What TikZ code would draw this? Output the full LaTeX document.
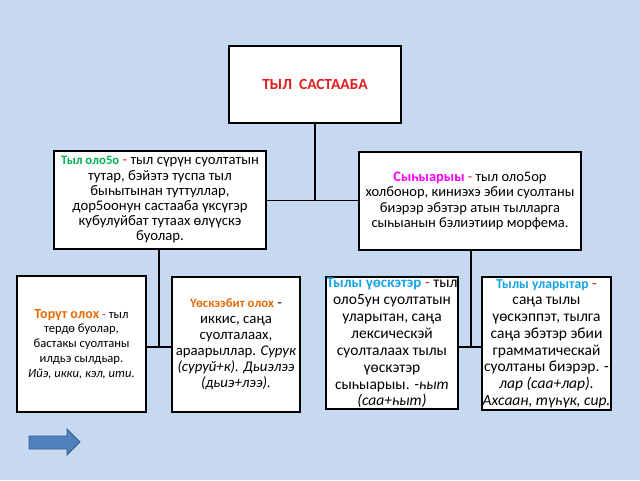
\documentclass[tikz,border=0pt]{standalone}
\usepackage{fontspec}
\setmainfont{Carlito}
\definecolor{bg}{HTML}{C6D9F1}
\definecolor{tgreen}{HTML}{00B050}
\definecolor{tmag}{HTML}{FF00FF}
\definecolor{torange}{HTML}{E36C09}
\definecolor{tblue}{HTML}{17A5E6}
\definecolor{tred}{HTML}{E02020}
\definecolor{arrfill}{HTML}{4F81BD}
\definecolor{arrdraw}{HTML}{385D8A}
\newcommand{\hd}[3]{{\fontsize{#2}{15}\selectfont\bfseries\color{#1}#3}}
\newcommand{\dsh}{\textcolor{tred}{-}}
\newcommand{\bfs}[2]{\fontsize{#1}{#2}\selectfont}
\begin{document}
\begin{tikzpicture}[x=1pt,y=-1pt,
  box/.style={draw=black, line width=1.3pt, fill=white, inner sep=0pt, align=center},
  conn/.style={draw=black, line width=1.3pt}]
\fill[bg] (0,0) rectangle (640,480);
\useasboundingbox (0,0) rectangle (640,480);

\node[box, minimum width=172pt, minimum height=77pt, font={\fontsize{15.5}{18}\selectfont\bfseries}] (top) at (315,84.5) {\textcolor{tred}{ТЫЛ\ \ САСТААБА}};

\node[box, minimum width=212pt, minimum height=98pt, font=\bfs{14.7}{15.2}] (lm) at (160,200)
 {\hd{tgreen}{12.8}{Тыл оло5о} \dsh{} тыл сүрүн суолтатын\\ тутар, бэйэтэ туспа тыл\\ быһытынан туттуллар,\\ дор5оонун састааба үксүгэр\\ кубулуйбат тутаах өлүүскэ\\ буолар.};

\node[box, minimum width=222pt, minimum height=98pt, font=\bfs{14.5}{15.3}] (rm) at (470,201)
 {\hd{tmag}{14.5}{Сыһыарыы} \dsh{} тыл оло5ор\\ холбонор, киниэхэ эбии суолтаны\\ биэрэр эбэтэр атын тылларга\\ сыһыанын бэлиэтиир морфема.};

\node[box, minimum width=129pt, minimum height=136pt, font=\bfs{12.6}{14.8}] (b1) at (81.5,344)
 {\hd{torange}{14}{Торүт олох} \dsh{} тыл\\ тердө буолар,\\ бастакы суолтаны\\ илдьэ сылдьар.\\ \itshape Ийэ, икки, кэл, ити.};

\node[box, minimum width=128pt, minimum height=135pt, font=\bfs{14.8}{16}] (b2) at (236,344.5)
 {\hd{torange}{12.8}{Үөскээбит олох} -\\ иккис, саңа\\ суолталаах,\\ араарыллар. \textit{Сурук}\\ \textit{(суруй+к). Дьиэлээ}\\ \textit{(дьиэ+лээ).}};

\node[box, minimum width=132pt, minimum height=132pt, font=\bfs{15.5}{16.9}] (b3) at (392,343)
 {\hd{tblue}{15}{Тылы үөскэтэр} \dsh{} тыл\\ оло5ун суолтатын\\ уларытан, саңа\\ лексическэй\\ суолталаах тылы\\ үөскэтэр\\ сыһыарыы. \textit{-һыт}\\ \textit{(саа+һыт)}};

\node[box, minimum width=129pt, minimum height=133pt, font=\bfs{15.5}{16.7}] (b4) at (546.5,343.5)
 {\hd{tblue}{13.7}{Тылы уларытар} \dsh\\ саңа тылы\\ үөскэппэт, тылга\\ саңа эбэтэр эбии\\ грамматическай\\ суолтаны биэрэр. -\\ \textit{лар (саа+лар).}\\ \textit{Ахсаан, түһүк, сир.}};

\coordinate (j1) at (315,200.5);
\coordinate (j2) at (159,347);
\coordinate (j3) at (471,347);
\draw[conn] (top.south) -- (top.south |- j1);
\draw[conn] (lm.east |- j1) -- (rm.west |- j1);
\draw[conn] (lm.south -| j2) -- (j2);
\draw[conn] (b1.east |- j2) -- (b2.west |- j2);
\draw[conn] (rm.south -| j3) -- (j3);
\draw[conn] (b3.east |- j3) -- (b4.west |- j3);

\filldraw[fill=arrfill, draw=arrdraw, line width=0.8pt]
  (29,436) -- (67,436) -- (67,429) -- (80,442) -- (67,455) -- (67,449) -- (29,449) -- cycle;
\end{tikzpicture}
\end{document}
